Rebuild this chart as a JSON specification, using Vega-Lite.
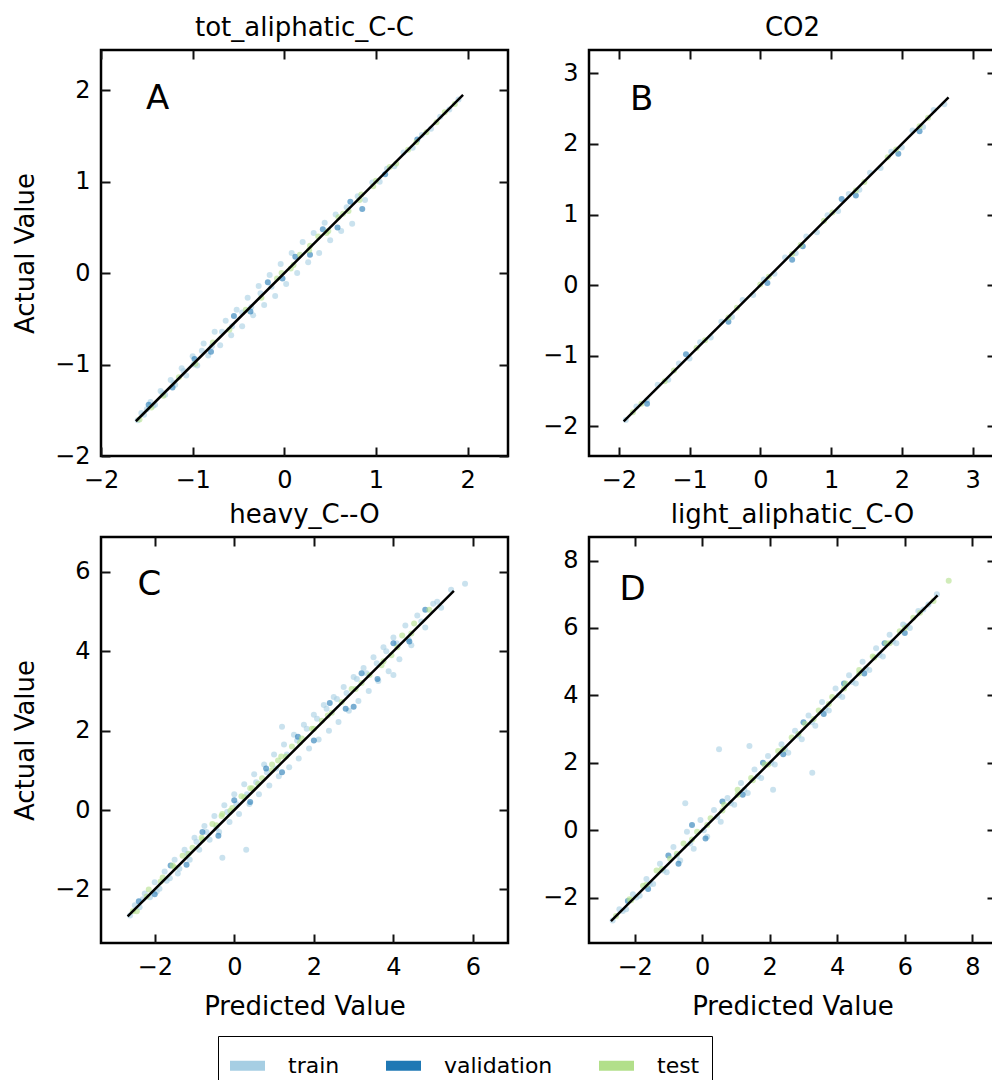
{
  "$schema": "https://vega.github.io/schema/vega-lite/v6.json",
  "padding": {"left": 11, "top": 13, "right": 5, "bottom": 5},
  "background": "white",
  "config": {
    "font": "DejaVu Sans",
    "view": {"stroke": "black", "strokeWidth": 2.5},
    "axis": {"domain": false, "grid": false, "ticks": true, "offset": -9, "tickSize": 9, "tickWidth": 2, "tickColor": "#111111", "tickOpacity": 1, "labelFont": "DejaVu Sans", "labelFontSize": 24, "labelColor": "black", "labelFlush": false, "labelOverlap": false, "titleFont": "DejaVu Sans", "titleFontSize": 26, "titleFontWeight": "normal", "titleColor": "black", "zindex": 1},
    "axisBottom": {"labelPadding": 12, "titlePadding": 14},
    "axisLeft": {"labelPadding": 11, "titlePadding": 16},
    "axisTop": {"labels": false},
    "axisRight": {"labels": false},
    "title": {"fontSize": 26, "fontWeight": "normal", "font": "DejaVu Sans", "color": "black", "offset": 8, "baseline": "alphabetic", "frame": "group", "anchor": "middle"}
  },
  "datasets": {
    "A": [
      {"s":"train","x":-1.60,"y":-1.61},{"s":"train","x":-1.56,"y":-1.53},{"s":"train","x":-1.50,"y":-1.49},{"s":"train","x":-1.46,"y":-1.41},{"s":"train","x":-1.41,"y":-1.44},{"s":"train","x":-1.35,"y":-1.29},{"s":"train","x":-1.30,"y":-1.33},{"s":"train","x":-1.24,"y":-1.17},{"s":"train","x":-1.19,"y":-1.22},{"s":"train","x":-1.12,"y":-1.04},{"s":"train","x":-1.07,"y":-1.12},{"s":"train","x":-1.00,"y":-0.91},{"s":"train","x":-0.95,"y":-1.01},{"s":"train","x":-0.88,"y":-0.77},{"s":"train","x":-0.83,"y":-0.90},{"s":"train","x":-0.76,"y":-0.64},{"s":"train","x":-0.70,"y":-0.79},{"s":"train","x":-0.64,"y":-0.52},{"s":"train","x":-0.58,"y":-0.68},{"s":"train","x":-0.52,"y":-0.40},{"s":"train","x":-0.46,"y":-0.58},{"s":"train","x":-0.40,"y":-0.27},{"s":"train","x":-0.34,"y":-0.46},{"s":"train","x":-0.28,"y":-0.14},{"s":"train","x":-0.22,"y":-0.35},{"s":"train","x":-0.16,"y":-0.02},{"s":"train","x":-0.10,"y":-0.25},{"s":"train","x":-0.04,"y":0.10},{"s":"train","x":0.02,"y":-0.12},{"s":"train","x":0.08,"y":0.22},{"s":"train","x":0.14,"y":0.00},{"s":"train","x":0.20,"y":0.34},{"s":"train","x":0.26,"y":0.12},{"s":"train","x":0.32,"y":0.44},{"s":"train","x":0.38,"y":0.22},{"s":"train","x":0.44,"y":0.55},{"s":"train","x":0.50,"y":0.36},{"s":"train","x":0.56,"y":0.64},{"s":"train","x":0.62,"y":0.46},{"s":"train","x":0.68,"y":0.72},{"s":"train","x":0.74,"y":0.54},{"s":"train","x":0.80,"y":0.84},{"s":"train","x":0.88,"y":0.80},{"s":"train","x":0.96,"y":0.99},{"s":"train","x":1.04,"y":1.00},{"s":"train","x":1.12,"y":1.14},{"s":"train","x":1.20,"y":1.17},{"s":"train","x":1.30,"y":1.32},{"s":"train","x":1.40,"y":1.37},{"s":"train","x":1.50,"y":1.51},{"s":"train","x":1.60,"y":1.58},{"s":"train","x":1.70,"y":1.71},{"s":"train","x":1.80,"y":1.79},{"s":"train","x":1.90,"y":1.90},
      {"s":"train","x":-1.53,"y":-1.55},{"s":"train","x":-1.43,"y":-1.45},{"s":"train","x":-1.33,"y":-1.31},{"s":"train","x":-1.21,"y":-1.20},{"s":"train","x":-1.10,"y":-1.07},{"s":"train","x":-0.99,"y":-1.00},{"s":"train","x":-0.90,"y":-0.85},{"s":"train","x":-0.79,"y":-0.80},{"s":"train","x":-0.68,"y":-0.64},{"s":"train","x":-0.57,"y":-0.58},{"s":"train","x":-0.46,"y":-0.43},{"s":"train","x":-0.36,"y":-0.37},{"s":"train","x":-0.26,"y":-0.22},{"s":"train","x":-0.14,"y":-0.15},
      {"s":"validation","x":-1.48,"y":-1.44},{"s":"validation","x":-1.22,"y":-1.25},{"s":"validation","x":-0.98,"y":-0.94},{"s":"validation","x":-0.80,"y":-0.86},{"s":"validation","x":-0.55,"y":-0.47},{"s":"validation","x":-0.37,"y":-0.42},{"s":"validation","x":-0.18,"y":-0.10},{"s":"validation","x":-0.02,"y":-0.06},{"s":"validation","x":0.12,"y":0.18},{"s":"validation","x":0.28,"y":0.20},{"s":"validation","x":0.42,"y":0.48},{"s":"validation","x":0.58,"y":0.50},{"s":"validation","x":0.72,"y":0.78},{"s":"validation","x":0.85,"y":0.70},{"s":"validation","x":1.10,"y":1.08},{"s":"validation","x":1.45,"y":1.46},
      {"s":"test","x":-1.58,"y":-1.60},{"s":"test","x":-1.45,"y":-1.47},{"s":"test","x":-1.32,"y":-1.34},{"s":"test","x":-1.15,"y":-1.14},{"s":"test","x":-0.97,"y":-0.99},{"s":"test","x":-0.78,"y":-0.76},{"s":"test","x":-0.60,"y":-0.62},{"s":"test","x":-0.42,"y":-0.40},{"s":"test","x":-0.25,"y":-0.27},{"s":"test","x":-0.08,"y":-0.06},{"s":"test","x":0.10,"y":0.09},{"s":"test","x":0.28,"y":0.30},{"s":"test","x":0.46,"y":0.44},{"s":"test","x":0.64,"y":0.65},{"s":"test","x":0.82,"y":0.80},{"s":"test","x":1.00,"y":1.01},{"s":"test","x":1.22,"y":1.20},{"s":"test","x":1.44,"y":1.43},{"s":"test","x":1.66,"y":1.65},{"s":"test","x":1.86,"y":1.85},
      {"s":"test","x":-0.03,"y":0.00},{"s":"test","x":0.07,"y":0.05},{"s":"test","x":0.17,"y":0.20},{"s":"test","x":0.27,"y":0.25},{"s":"test","x":0.37,"y":0.40},{"s":"test","x":0.48,"y":0.46},{"s":"test","x":0.59,"y":0.61},{"s":"test","x":0.70,"y":0.68},{"s":"test","x":0.84,"y":0.86},{"s":"test","x":0.97,"y":0.95},{"s":"test","x":1.15,"y":1.16},{"s":"test","x":1.35,"y":1.35},{"s":"test","x":1.55,"y":1.54},{"s":"test","x":1.75,"y":1.76}
    ],
    "B": [
      {"s":"train","x":-1.90,"y":-1.91},{"s":"train","x":-1.75,"y":-1.72},{"s":"train","x":-1.60,"y":-1.63},{"s":"train","x":-1.45,"y":-1.41},{"s":"train","x":-1.30,"y":-1.34},{"s":"train","x":-1.15,"y":-1.11},{"s":"train","x":-1.00,"y":-1.04},{"s":"train","x":-0.85,"y":-0.81},{"s":"train","x":-0.70,"y":-0.74},{"s":"train","x":-0.55,"y":-0.52},{"s":"train","x":-0.40,"y":-0.45},{"s":"train","x":-0.25,"y":-0.21},{"s":"train","x":-0.10,"y":-0.14},{"s":"train","x":0.05,"y":0.08},{"s":"train","x":0.20,"y":0.16},{"s":"train","x":0.35,"y":0.39},{"s":"train","x":0.50,"y":0.45},{"s":"train","x":0.65,"y":0.69},{"s":"train","x":0.80,"y":0.75},{"s":"train","x":0.95,"y":0.99},{"s":"train","x":1.10,"y":1.05},{"s":"train","x":1.25,"y":1.29},{"s":"train","x":1.40,"y":1.35},{"s":"train","x":1.55,"y":1.59},{"s":"train","x":1.70,"y":1.66},{"s":"train","x":1.85,"y":1.89},{"s":"train","x":2.00,"y":1.95},{"s":"train","x":2.15,"y":2.19},{"s":"train","x":2.30,"y":2.24},{"s":"train","x":2.45,"y":2.48},{"s":"train","x":2.60,"y":2.56},
      {"s":"validation","x":-1.60,"y":-1.68},{"s":"validation","x":-1.05,"y":-0.98},{"s":"validation","x":-0.45,"y":-0.52},{"s":"validation","x":0.10,"y":0.03},{"s":"validation","x":0.60,"y":0.55},{"s":"validation","x":1.15,"y":1.22},{"s":"validation","x":1.35,"y":1.27},{"s":"validation","x":1.95,"y":1.86},{"s":"validation","x":2.25,"y":2.18},{"s":"validation","x":0.45,"y":0.36},
      {"s":"test","x":-1.80,"y":-1.80},{"s":"test","x":-1.35,"y":-1.36},{"s":"test","x":-0.90,"y":-0.89},{"s":"test","x":-0.45,"y":-0.46},{"s":"test","x":0.00,"y":0.01},{"s":"test","x":0.45,"y":0.44},{"s":"test","x":0.90,"y":0.91},{"s":"test","x":1.35,"y":1.34},{"s":"test","x":1.80,"y":1.81},{"s":"test","x":2.25,"y":2.25},
      {"s":"test","x":-1.68,"y":-1.68},{"s":"test","x":-1.22,"y":-1.21},{"s":"test","x":-0.78,"y":-0.78},{"s":"test","x":-0.33,"y":-0.32},{"s":"test","x":0.12,"y":0.12},{"s":"test","x":0.57,"y":0.57},{"s":"test","x":1.02,"y":1.03},{"s":"test","x":1.47,"y":1.46},{"s":"test","x":1.92,"y":1.92},{"s":"test","x":2.37,"y":2.37}
    ],
    "C": [
      {"s":"train","x":-2.62,"y":-2.66},{"s":"train","x":-2.50,"y":-2.40},{"s":"train","x":-2.38,"y":-2.45},{"s":"train","x":-2.25,"y":-2.10},{"s":"train","x":-2.12,"y":-2.20},{"s":"train","x":-2.00,"y":-1.82},{"s":"train","x":-1.88,"y":-1.98},{"s":"train","x":-1.75,"y":-1.55},{"s":"train","x":-1.62,"y":-1.72},{"s":"train","x":-1.50,"y":-1.25},{"s":"train","x":-1.38,"y":-1.48},{"s":"train","x":-1.25,"y":-1.00},{"s":"train","x":-1.12,"y":-1.25},{"s":"train","x":-1.00,"y":-0.70},{"s":"train","x":-0.88,"y":-1.00},{"s":"train","x":-0.75,"y":-0.40},{"s":"train","x":-0.62,"y":-0.75},{"s":"train","x":-0.50,"y":-0.15},{"s":"train","x":-0.38,"y":-0.55},{"s":"train","x":-0.25,"y":0.12},{"s":"train","x":-0.12,"y":-0.30},{"s":"train","x":0.00,"y":0.40},{"s":"train","x":0.12,"y":-0.10},{"s":"train","x":0.25,"y":0.65},{"s":"train","x":0.38,"y":0.15},{"s":"train","x":0.50,"y":0.90},{"s":"train","x":0.62,"y":0.40},{"s":"train","x":0.75,"y":1.15},{"s":"train","x":0.88,"y":0.62},{"s":"train","x":1.00,"y":1.40},{"s":"train","x":1.12,"y":0.85},{"s":"train","x":1.25,"y":1.65},{"s":"train","x":1.38,"y":1.08},{"s":"train","x":1.50,"y":1.90},{"s":"train","x":1.62,"y":1.30},{"s":"train","x":1.75,"y":2.15},{"s":"train","x":1.88,"y":1.55},{"s":"train","x":2.00,"y":2.40},{"s":"train","x":2.12,"y":1.78},{"s":"train","x":2.25,"y":2.65},{"s":"train","x":2.38,"y":2.00},{"s":"train","x":2.50,"y":2.85},{"s":"train","x":2.62,"y":2.22},{"s":"train","x":2.75,"y":3.10},{"s":"train","x":2.88,"y":2.50},{"s":"train","x":3.00,"y":3.35},{"s":"train","x":3.12,"y":2.75},{"s":"train","x":3.25,"y":3.58},{"s":"train","x":3.38,"y":3.00},{"s":"train","x":3.50,"y":3.85},{"s":"train","x":3.62,"y":3.25},{"s":"train","x":3.75,"y":4.10},{"s":"train","x":3.88,"y":3.50},{"s":"train","x":4.00,"y":4.35},{"s":"train","x":4.15,"y":3.80},{"s":"train","x":4.30,"y":4.65},{"s":"train","x":4.45,"y":4.15},{"s":"train","x":4.60,"y":4.90},{"s":"train","x":4.80,"y":4.60},{"s":"train","x":5.00,"y":5.20},{"s":"train","x":5.20,"y":5.10},{"s":"train","x":5.45,"y":5.55},{"s":"train","x":5.80,"y":5.70},{"s":"train","x":0.30,"y":-1.00},{"s":"train","x":-0.30,"y":-1.20},{"s":"train","x":1.20,"y":2.10},{"s":"train","x":4.00,"y":3.40},
      {"s":"train","x":-2.30,"y":-2.25},{"s":"train","x":-1.95,"y":-2.05},{"s":"train","x":-1.70,"y":-1.78},{"s":"train","x":-1.42,"y":-1.60},{"s":"train","x":-1.18,"y":-1.10},{"s":"train","x":-0.95,"y":-0.80},{"s":"train","x":-0.70,"y":-0.55},{"s":"train","x":-0.45,"y":-0.45},{"s":"train","x":-0.18,"y":-0.05},{"s":"train","x":0.05,"y":0.15},{"s":"train","x":0.32,"y":0.40},{"s":"train","x":0.55,"y":0.70},{"s":"train","x":0.82,"y":0.95},{"s":"train","x":1.05,"y":1.05},{"s":"train","x":1.32,"y":1.40},{"s":"train","x":1.58,"y":1.75},{"s":"train","x":1.82,"y":2.05},{"s":"train","x":2.08,"y":2.30},{"s":"train","x":2.32,"y":2.55},{"s":"train","x":2.58,"y":2.80},{"s":"train","x":2.82,"y":2.95},{"s":"train","x":3.08,"y":3.30},{"s":"train","x":3.32,"y":3.45},{"s":"train","x":3.58,"y":3.70},{"s":"train","x":3.82,"y":4.00},{"s":"train","x":4.08,"y":4.20},{"s":"train","x":4.38,"y":4.30},{"s":"train","x":4.70,"y":4.75},{"s":"train","x":5.10,"y":5.25},
      {"s":"validation","x":-2.40,"y":-2.30},{"s":"validation","x":-2.00,"y":-2.12},{"s":"validation","x":-1.60,"y":-1.40},{"s":"validation","x":-1.20,"y":-1.38},{"s":"validation","x":-0.80,"y":-0.55},{"s":"validation","x":-0.40,"y":-0.65},{"s":"validation","x":0.00,"y":0.25},{"s":"validation","x":0.40,"y":0.20},{"s":"validation","x":0.80,"y":1.05},{"s":"validation","x":1.20,"y":0.95},{"s":"validation","x":1.60,"y":1.85},{"s":"validation","x":2.00,"y":1.75},{"s":"validation","x":2.40,"y":2.70},{"s":"validation","x":2.80,"y":2.55},{"s":"validation","x":3.20,"y":3.45},{"s":"validation","x":3.60,"y":3.30},{"s":"validation","x":4.00,"y":4.20},{"s":"validation","x":4.40,"y":4.25},{"s":"validation","x":4.80,"y":5.05},{"s":"validation","x":3.00,"y":2.60},
      {"s":"test","x":-2.55,"y":-2.55},{"s":"test","x":-2.20,"y":-2.18},{"s":"test","x":-1.85,"y":-1.80},{"s":"test","x":-1.50,"y":-1.45},{"s":"test","x":-1.15,"y":-1.10},{"s":"test","x":-0.80,"y":-0.75},{"s":"test","x":-0.45,"y":-0.38},{"s":"test","x":-0.10,"y":-0.02},{"s":"test","x":0.25,"y":0.32},{"s":"test","x":0.60,"y":0.66},{"s":"test","x":0.95,"y":1.00},{"s":"test","x":1.30,"y":1.35},{"s":"test","x":1.65,"y":1.70},{"s":"test","x":2.00,"y":2.05},{"s":"test","x":2.35,"y":2.38},{"s":"test","x":2.70,"y":2.72},{"s":"test","x":3.05,"y":3.05},{"s":"test","x":3.40,"y":3.40},{"s":"test","x":3.75,"y":3.75},{"s":"test","x":4.10,"y":4.10},{"s":"test","x":4.45,"y":4.45},{"s":"test","x":-0.30,"y":-0.10},{"s":"test","x":0.40,"y":0.55},{"s":"test","x":1.10,"y":1.25},
      {"s":"test","x":-2.45,"y":-2.55},{"s":"test","x":-2.15,"y":-2.00},{"s":"test","x":-1.80,"y":-1.70},{"s":"test","x":-1.55,"y":-1.40},{"s":"test","x":-1.30,"y":-1.15},{"s":"test","x":-1.05,"y":-0.95},{"s":"test","x":-0.82,"y":-0.70},{"s":"test","x":-0.55,"y":-0.35},{"s":"test","x":-0.32,"y":-0.15},{"s":"test","x":-0.05,"y":0.05},{"s":"test","x":0.18,"y":0.35},{"s":"test","x":0.45,"y":0.55},{"s":"test","x":0.70,"y":0.80},{"s":"test","x":0.95,"y":1.15},{"s":"test","x":1.18,"y":1.35},{"s":"test","x":1.45,"y":1.60},{"s":"test","x":1.70,"y":1.80},{"s":"test","x":1.95,"y":2.05},{"s":"test","x":2.20,"y":2.25},{"s":"test","x":2.45,"y":2.45},{"s":"test","x":2.95,"y":3.05},{"s":"test","x":3.20,"y":3.20},{"s":"test","x":3.70,"y":3.65},{"s":"test","x":3.95,"y":3.90},{"s":"test","x":4.22,"y":4.40},{"s":"test","x":4.52,"y":4.70},{"s":"test","x":4.90,"y":5.05}
    ],
    "D": [
      {"s":"train","x":-2.65,"y":-2.68},{"s":"train","x":-2.45,"y":-2.35},{"s":"train","x":-2.25,"y":-2.35},{"s":"train","x":-2.05,"y":-1.90},{"s":"train","x":-1.85,"y":-1.95},{"s":"train","x":-1.65,"y":-1.45},{"s":"train","x":-1.45,"y":-1.60},{"s":"train","x":-1.25,"y":-1.00},{"s":"train","x":-1.05,"y":-1.25},{"s":"train","x":-0.85,"y":-0.50},{"s":"train","x":-0.65,"y":-0.90},{"s":"train","x":-0.45,"y":-0.05},{"s":"train","x":-0.25,"y":-0.55},{"s":"train","x":-0.05,"y":0.30},{"s":"train","x":0.15,"y":-0.20},{"s":"train","x":0.35,"y":0.60},{"s":"train","x":0.55,"y":0.25},{"s":"train","x":0.75,"y":0.95},{"s":"train","x":0.95,"y":0.75},{"s":"train","x":1.15,"y":1.40},{"s":"train","x":1.35,"y":1.10},{"s":"train","x":1.55,"y":1.80},{"s":"train","x":1.75,"y":1.55},{"s":"train","x":1.95,"y":2.20},{"s":"train","x":2.15,"y":1.95},{"s":"train","x":2.35,"y":2.55},{"s":"train","x":2.55,"y":2.30},{"s":"train","x":2.75,"y":2.95},{"s":"train","x":2.95,"y":2.70},{"s":"train","x":3.15,"y":3.40},{"s":"train","x":3.35,"y":3.10},{"s":"train","x":3.55,"y":3.80},{"s":"train","x":3.75,"y":3.55},{"s":"train","x":3.95,"y":4.20},{"s":"train","x":4.15,"y":3.95},{"s":"train","x":4.35,"y":4.60},{"s":"train","x":4.55,"y":4.35},{"s":"train","x":4.75,"y":5.00},{"s":"train","x":4.95,"y":4.75},{"s":"train","x":5.15,"y":5.40},{"s":"train","x":5.35,"y":5.15},{"s":"train","x":5.55,"y":5.80},{"s":"train","x":5.75,"y":5.55},{"s":"train","x":5.95,"y":6.10},{"s":"train","x":6.15,"y":6.00},{"s":"train","x":6.40,"y":6.50},{"s":"train","x":6.70,"y":6.70},{"s":"train","x":6.95,"y":7.00},{"s":"train","x":0.50,"y":2.40},{"s":"train","x":1.40,"y":2.50},{"s":"train","x":-0.50,"y":0.80},{"s":"train","x":3.26,"y":1.70},{"s":"train","x":2.10,"y":1.20},
      {"s":"train","x":-2.35,"y":-2.40},{"s":"train","x":-1.95,"y":-2.00},{"s":"train","x":-1.55,"y":-1.60},{"s":"train","x":-1.15,"y":-1.20},{"s":"train","x":-0.75,"y":-0.75},{"s":"train","x":-0.35,"y":-0.40},{"s":"train","x":0.05,"y":0.00},{"s":"train","x":0.45,"y":0.40},{"s":"train","x":0.85,"y":0.80},{"s":"train","x":1.25,"y":1.20},{"s":"train","x":1.65,"y":1.60},{"s":"train","x":2.05,"y":2.00},{"s":"train","x":2.45,"y":2.40},{"s":"train","x":2.85,"y":2.80},{"s":"train","x":3.25,"y":3.20},{"s":"train","x":3.65,"y":3.60},{"s":"train","x":4.05,"y":4.00},{"s":"train","x":4.45,"y":4.40},{"s":"train","x":4.85,"y":4.80},{"s":"train","x":5.25,"y":5.20},{"s":"train","x":5.65,"y":5.60},{"s":"train","x":6.05,"y":6.05},{"s":"train","x":6.55,"y":6.55},
      {"s":"validation","x":-2.20,"y":-2.10},{"s":"validation","x":-1.60,"y":-1.75},{"s":"validation","x":-1.00,"y":-0.75},{"s":"validation","x":-0.70,"y":-1.00},{"s":"validation","x":-0.30,"y":0.15},{"s":"validation","x":0.10,"y":-0.25},{"s":"validation","x":0.60,"y":0.85},{"s":"validation","x":1.20,"y":1.05},{"s":"validation","x":1.80,"y":2.00},{"s":"validation","x":2.40,"y":2.25},{"s":"validation","x":3.00,"y":3.20},{"s":"validation","x":3.60,"y":3.45},{"s":"validation","x":4.20,"y":4.35},{"s":"validation","x":4.80,"y":4.65},{"s":"validation","x":5.40,"y":5.55},{"s":"validation","x":6.00,"y":5.85},
      {"s":"test","x":-2.55,"y":-2.55},{"s":"test","x":-2.10,"y":-2.08},{"s":"test","x":-1.65,"y":-1.62},{"s":"test","x":-1.20,"y":-1.15},{"s":"test","x":-0.75,"y":-0.70},{"s":"test","x":-0.30,"y":-0.28},{"s":"test","x":0.15,"y":0.15},{"s":"test","x":0.60,"y":0.58},{"s":"test","x":1.05,"y":1.05},{"s":"test","x":1.50,"y":1.48},{"s":"test","x":1.95,"y":1.95},{"s":"test","x":2.40,"y":2.40},{"s":"test","x":2.85,"y":2.85},{"s":"test","x":3.30,"y":3.30},{"s":"test","x":3.75,"y":3.74},{"s":"test","x":4.20,"y":4.20},{"s":"test","x":4.65,"y":4.65},{"s":"test","x":5.10,"y":5.12},{"s":"test","x":5.55,"y":5.55},{"s":"test","x":6.00,"y":6.00},{"s":"test","x":6.45,"y":6.45},{"s":"test","x":7.30,"y":7.40},
      {"s":"test","x":-2.15,"y":-2.05},{"s":"test","x":-1.75,"y":-1.65},{"s":"test","x":-1.35,"y":-1.20},{"s":"test","x":-0.95,"y":-0.85},{"s":"test","x":-0.55,"y":-0.40},{"s":"test","x":-0.15,"y":-0.05},{"s":"test","x":0.25,"y":0.35},{"s":"test","x":0.65,"y":0.75},{"s":"test","x":1.05,"y":1.20},{"s":"test","x":1.45,"y":1.55},{"s":"test","x":1.85,"y":1.95},{"s":"test","x":2.25,"y":2.35},{"s":"test","x":2.65,"y":2.75},{"s":"test","x":3.05,"y":3.15},{"s":"test","x":3.45,"y":3.55},{"s":"test","x":3.85,"y":3.95},{"s":"test","x":4.25,"y":4.35},{"s":"test","x":4.65,"y":4.75},{"s":"test","x":5.05,"y":5.15},{"s":"test","x":5.45,"y":5.55},{"s":"test","x":5.85,"y":5.90},{"s":"test","x":6.25,"y":6.30},{"s":"test","x":6.85,"y":6.80}
    ],
    "lA": [{"x":-1.62,"y":-1.62},{"x":1.95,"y":1.95}],
    "lB": [{"x":-1.93,"y":-1.93},{"x":2.66,"y":2.66}],
    "lC": [{"x":-2.68,"y":-2.68},{"x":5.52,"y":5.52}],
    "lD": [{"x":-2.70,"y":-2.70},{"x":6.97,"y":6.97}],
    "tA": [{"t":"A","x":-1.51,"y":1.80}],
    "tB": [{"t":"B","x":-1.84,"y":2.48}],
    "tC": [{"t":"C","x":-2.43,"y":5.42}],
    "tD": [{"t":"D","x":-2.45,"y":6.82}]
  },
  "columns": 2,
  "spacing": {"row": 81, "column": 81},
  "bounds": "flush",
  "concat": [
    {
      "width": 407, "height": 406,
      "title": {"text": "tot_aliphatic_C-C"},
      "layer": [
        {"data": {"name": "A"}, "mark": {"type": "circle", "size": 36, "opacity": 1, "fillOpacity": 0.6},
         "encoding": {
           "x": {"field": "x", "type": "quantitative", "scale": {"domain": [-2, 2.44], "nice": false, "zero": false}, "axis": {"orient": "bottom", "values": [-2, -1, 0, 1, 2], "title": null}},
           "y": {"field": "y", "type": "quantitative", "scale": {"domain": [-2, 2.44], "nice": false, "zero": false}, "axis": {"orient": "left", "values": [-2, -1, 0, 1, 2], "title": "Actual Value"}},
           "color": {"field": "s", "type": "nominal", "scale": {"domain": ["train", "validation", "test"], "range": ["#a6cee3", "#1f78b4", "#b2df8a"]},
             "legend": {"orient": "none", "legendX": 117, "legendY": 986, "direction": "horizontal", "columns": 3, "title": null, "symbolType": "M-1,-0.28H1V0.28H-1Z", "symbolSize": 1225, "symbolOpacity": 1, "symbolStrokeWidth": 0, "labelFontSize": 22, "labelFont": "DejaVu Sans", "labelColor": "black", "labelOffset": 23, "columnPadding": 46, "padding": 12, "strokeColor": "black", "fillColor": "white"}}
         }},
        {"data": {"name": "lA"}, "mark": {"type": "line", "color": "black", "strokeWidth": 2.5},
         "encoding": {
           "x": {"field": "x", "type": "quantitative", "scale": {"domain": [-2, 2.44], "nice": false, "zero": false}, "axis": {"orient": "top", "values": [-2, -1, 0, 1, 2], "labels": false, "ticks": true, "title": null}},
           "y": {"field": "y", "type": "quantitative", "scale": {"domain": [-2, 2.44], "nice": false, "zero": false}, "axis": {"orient": "right", "values": [-2, -1, 0, 1, 2], "labels": false, "ticks": true, "title": null}}
         }},
        {"data": {"name": "tA"}, "mark": {"type": "text", "fontSize": 34, "align": "left", "baseline": "alphabetic", "font": "DejaVu Sans", "color": "black"},
         "encoding": {
           "x": {"field": "x", "type": "quantitative", "scale": {"domain": [-2, 2.44], "nice": false, "zero": false}, "axis": null},
           "y": {"field": "y", "type": "quantitative", "scale": {"domain": [-2, 2.44], "nice": false, "zero": false}, "axis": null},
           "text": {"field": "t"}
         }}
      ]
    },
    {
      "width": 407, "height": 406,
      "title": {"text": "CO2"},
      "layer": [
        {"data": {"name": "B"}, "mark": {"type": "circle", "size": 36, "opacity": 1, "fillOpacity": 0.6},
         "encoding": {
           "x": {"field": "x", "type": "quantitative", "scale": {"domain": [-2.42, 3.33], "nice": false, "zero": false}, "axis": {"orient": "bottom", "values": [-2, -1, 0, 1, 2, 3], "title": null}},
           "y": {"field": "y", "type": "quantitative", "scale": {"domain": [-2.42, 3.33], "nice": false, "zero": false}, "axis": {"orient": "left", "values": [-2, -1, 0, 1, 2, 3], "title": null}},
           "color": {"field": "s", "type": "nominal", "scale": {"domain": ["train", "validation", "test"], "range": ["#a6cee3", "#1f78b4", "#b2df8a"]}}
         }},
        {"data": {"name": "lB"}, "mark": {"type": "line", "color": "black", "strokeWidth": 2.5},
         "encoding": {
           "x": {"field": "x", "type": "quantitative", "scale": {"domain": [-2.42, 3.33], "nice": false, "zero": false}, "axis": {"orient": "top", "values": [-2, -1, 0, 1, 2, 3], "labels": false, "ticks": true, "title": null}},
           "y": {"field": "y", "type": "quantitative", "scale": {"domain": [-2.42, 3.33], "nice": false, "zero": false}, "axis": {"orient": "right", "values": [-2, -1, 0, 1, 2, 3], "labels": false, "ticks": true, "title": null}}
         }},
        {"data": {"name": "tB"}, "mark": {"type": "text", "fontSize": 34, "align": "left", "baseline": "alphabetic", "font": "DejaVu Sans", "color": "black"},
         "encoding": {
           "x": {"field": "x", "type": "quantitative", "scale": {"domain": [-2.42, 3.33], "nice": false, "zero": false}, "axis": null},
           "y": {"field": "y", "type": "quantitative", "scale": {"domain": [-2.42, 3.33], "nice": false, "zero": false}, "axis": null},
           "text": {"field": "t"}
         }}
      ]
    },
    {
      "width": 407, "height": 406,
      "title": {"text": "heavy_C--O"},
      "layer": [
        {"data": {"name": "C"}, "mark": {"type": "circle", "size": 36, "opacity": 1, "fillOpacity": 0.6},
         "encoding": {
           "x": {"field": "x", "type": "quantitative", "scale": {"domain": [-3.35, 6.88], "nice": false, "zero": false}, "axis": {"orient": "bottom", "values": [-2, 0, 2, 4, 6], "title": "Predicted Value"}},
           "y": {"field": "y", "type": "quantitative", "scale": {"domain": [-3.35, 6.88], "nice": false, "zero": false}, "axis": {"orient": "left", "values": [-2, 0, 2, 4, 6], "title": "Actual Value"}},
           "color": {"field": "s", "type": "nominal", "scale": {"domain": ["train", "validation", "test"], "range": ["#a6cee3", "#1f78b4", "#b2df8a"]}}
         }},
        {"data": {"name": "lC"}, "mark": {"type": "line", "color": "black", "strokeWidth": 2.5},
         "encoding": {
           "x": {"field": "x", "type": "quantitative", "scale": {"domain": [-3.35, 6.88], "nice": false, "zero": false}, "axis": {"orient": "top", "values": [-2, 0, 2, 4, 6], "labels": false, "ticks": true, "title": null}},
           "y": {"field": "y", "type": "quantitative", "scale": {"domain": [-3.35, 6.88], "nice": false, "zero": false}, "axis": {"orient": "right", "values": [-2, 0, 2, 4, 6], "labels": false, "ticks": true, "title": null}}
         }},
        {"data": {"name": "tC"}, "mark": {"type": "text", "fontSize": 34, "align": "left", "baseline": "alphabetic", "font": "DejaVu Sans", "color": "black"},
         "encoding": {
           "x": {"field": "x", "type": "quantitative", "scale": {"domain": [-3.35, 6.88], "nice": false, "zero": false}, "axis": null},
           "y": {"field": "y", "type": "quantitative", "scale": {"domain": [-3.35, 6.88], "nice": false, "zero": false}, "axis": null},
           "text": {"field": "t"}
         }}
      ]
    },
    {
      "width": 407, "height": 406,
      "title": {"text": "light_aliphatic_C-O"},
      "layer": [
        {"data": {"name": "D"}, "mark": {"type": "circle", "size": 36, "opacity": 1, "fillOpacity": 0.6},
         "encoding": {
           "x": {"field": "x", "type": "quantitative", "scale": {"domain": [-3.35, 8.7], "nice": false, "zero": false}, "axis": {"orient": "bottom", "values": [-2, 0, 2, 4, 6, 8], "title": "Predicted Value"}},
           "y": {"field": "y", "type": "quantitative", "scale": {"domain": [-3.35, 8.7], "nice": false, "zero": false}, "axis": {"orient": "left", "values": [-2, 0, 2, 4, 6, 8], "title": null}},
           "color": {"field": "s", "type": "nominal", "scale": {"domain": ["train", "validation", "test"], "range": ["#a6cee3", "#1f78b4", "#b2df8a"]}}
         }},
        {"data": {"name": "lD"}, "mark": {"type": "line", "color": "black", "strokeWidth": 2.5},
         "encoding": {
           "x": {"field": "x", "type": "quantitative", "scale": {"domain": [-3.35, 8.7], "nice": false, "zero": false}, "axis": {"orient": "top", "values": [-2, 0, 2, 4, 6, 8], "labels": false, "ticks": true, "title": null}},
           "y": {"field": "y", "type": "quantitative", "scale": {"domain": [-3.35, 8.7], "nice": false, "zero": false}, "axis": {"orient": "right", "values": [-2, 0, 2, 4, 6, 8], "labels": false, "ticks": true, "title": null}}
         }},
        {"data": {"name": "tD"}, "mark": {"type": "text", "fontSize": 34, "align": "left", "baseline": "alphabetic", "font": "DejaVu Sans", "color": "black"},
         "encoding": {
           "x": {"field": "x", "type": "quantitative", "scale": {"domain": [-3.35, 8.7], "nice": false, "zero": false}, "axis": null},
           "y": {"field": "y", "type": "quantitative", "scale": {"domain": [-3.35, 8.7], "nice": false, "zero": false}, "axis": null},
           "text": {"field": "t"}
         }}
      ]
    }
  ]
}
